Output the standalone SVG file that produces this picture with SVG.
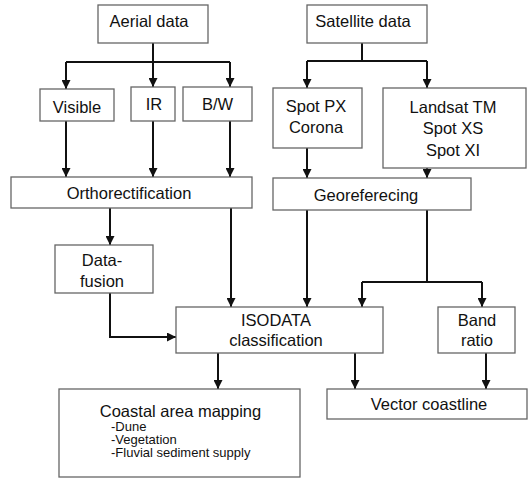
<svg xmlns="http://www.w3.org/2000/svg" width="528" height="480" viewBox="0 0 528 480">
<style>
.box{fill:#fff;stroke:#666;stroke-width:1.3}
.t{font-family:"Liberation Sans",Arial,sans-serif;font-size:16.5px;fill:#111;text-anchor:middle}
.s{font-family:"Liberation Sans",Arial,sans-serif;font-size:13px;fill:#111}
.c{fill:none;stroke:#111;stroke-width:2}
.a{marker-end:url(#ah)}
</style>
<defs>
<marker id="ah" markerUnits="userSpaceOnUse" markerWidth="9" markerHeight="9" refX="9" refY="4.5" orient="auto">
<path d="M0,0 L9,4.5 L0,9 z" fill="#111"/>
</marker>
</defs>
<rect width="528" height="480" fill="#fff"/>
<g id="connectors">
<path class="c" d="M153,43 V62 M66,62 H230"/>
<path class="c a" d="M66,62 V89"/>
<path class="c a" d="M153,62 V87"/>
<path class="c a" d="M230,62 V87"/>
<path class="c a" d="M66,121 V177"/>
<path class="c a" d="M153,121 V177"/>
<path class="c a" d="M230,121 V177"/>
<path class="c a" d="M110,208 V245"/>
<path class="c a" d="M231,208 V307"/>
<path class="c a" d="M110,293 V337 H176"/>
<path class="c" d="M362,43 V61 M307,61 H427"/>
<path class="c a" d="M307,61 V88"/>
<path class="c a" d="M427,61 V88"/>
<path class="c a" d="M307,148 V178"/>
<path class="c a" d="M427,168 V178"/>
<path class="c a" d="M307,210 V307"/>
<path class="c" d="M427,210 V282 M362,282 H482"/>
<path class="c a" d="M362,282 V307"/>
<path class="c a" d="M482,282 V307"/>
<path class="c a" d="M218,353 V389"/>
<path class="c a" d="M355,353 V389"/>
<path class="c a" d="M486,353 V389"/>
</g>
<g id="aerial"><rect class="box" x="98" y="5" width="110" height="38"/><text class="t" x="149" y="27">Aerial data</text></g>
<g id="satellite"><rect class="box" x="307" y="5" width="120" height="38"/><text class="t" x="363" y="27">Satellite data</text></g>
<g id="visible"><rect class="box" x="40" y="89" width="74" height="32"/><text class="t" x="77" y="113">Visible</text></g>
<g id="ir"><rect class="box" x="131" y="87" width="44" height="34"/><text class="t" x="154" y="110">IR</text></g>
<g id="bw"><rect class="box" x="183" y="87" width="69" height="34"/><text class="t" x="217.5" y="110">B/W</text></g>
<g id="spotpx"><rect class="box" x="273" y="88" width="89" height="60"/><text class="t" x="316" y="112">Spot PX</text><text class="t" x="316" y="133">Corona</text></g>
<g id="landsat"><rect class="box" x="383" y="88" width="143" height="80"/><text class="t" x="453" y="113">Landsat TM</text><text class="t" x="453" y="134">Spot XS</text><text class="t" x="453" y="156">Spot XI</text></g>
<g id="ortho"><rect class="box" x="11" y="177" width="241" height="31"/><text class="t" x="129" y="199">Orthorectification</text></g>
<g id="georef"><rect class="box" x="273" y="178" width="198" height="32"/><text class="t" x="366" y="201">Georeferecing</text></g>
<g id="datafusion"><rect class="box" x="55" y="245" width="98" height="48"/><text class="t" x="102" y="266">Data-</text><text class="t" x="102" y="287">fusion</text></g>
<g id="isodata"><rect class="box" x="176" y="307" width="207" height="46"/><text class="t" x="276" y="326">ISODATA</text><text class="t" x="276" y="346">classification</text></g>
<g id="bandratio"><rect class="box" x="438" y="307" width="77" height="46"/><text class="t" x="477" y="326">Band</text><text class="t" x="477" y="346">ratio</text></g>
<g id="coastal"><rect class="box" x="59" y="389" width="241" height="88"/><text class="t" x="180.5" y="417">Coastal area mapping</text><text class="s" x="111" y="431">-Dune</text><text class="s" x="111" y="444">-Vegetation</text><text class="s" x="111" y="457">-Fluvial sediment supply</text></g>
<g id="vector"><rect class="box" x="327" y="389" width="200" height="30"/><text class="t" x="429" y="410">Vector coastline</text></g>
</svg>
